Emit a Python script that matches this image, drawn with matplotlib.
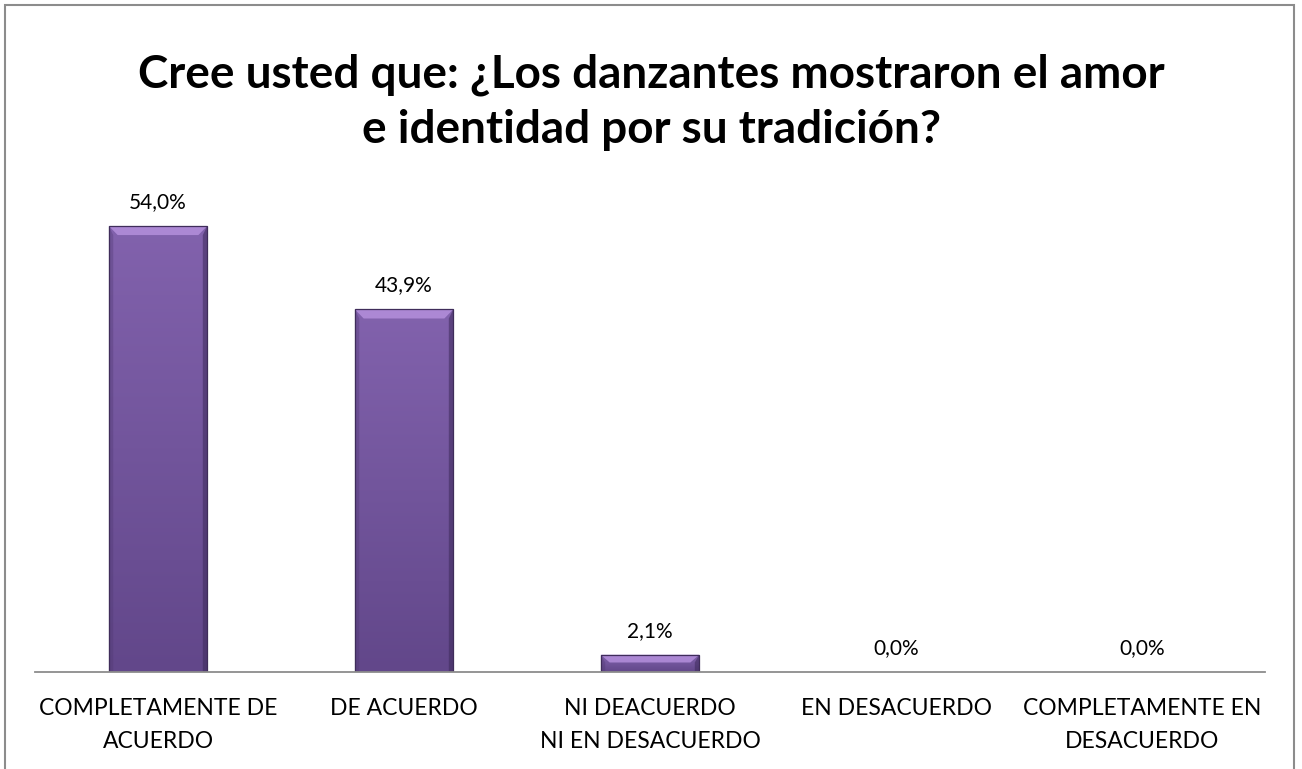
import matplotlib
matplotlib.use("Agg")
import matplotlib.pyplot as plt
from matplotlib.patches import Rectangle, Polygon
import numpy as np

# survey answers and their shares (percent)
categories = ["COMPLETAMENTE DE\nACUERDO", "DE ACUERDO", "NI DEACUERDO\nNI EN DESACUERDO",
              "EN DESACUERDO", "COMPLETAMENTE EN\nDESACUERDO"]
values = [54.0, 43.9, 2.1, 0.0, 0.0]
value_labels = ["54,0%", "43,9%", "2,1%", "0,0%", "0,0%"]
title = "Cree usted que: ¿Los danzantes mostraron el amor\ne identidad por su tradición?"

plt.rcParams['font.family'] = ['Lato', 'DejaVu Sans']

fig = plt.figure(figsize=(13.02, 7.69), dpi=100)
ax = fig.add_axes([0.0269, 0.1261, 0.9447, 0.6445])

x = np.arange(len(values))
bars = ax.bar(x, values, width=0.4, color='#7a5ca3', edgecolor='none', zorder=2)

# vertical gradient clipped to each bar, plus a bevel on top and sides
grad = np.linspace(0, 1, 256).reshape(-1, 1)
cmap = matplotlib.colors.LinearSegmentedColormap.from_list(
    'bev', ['#62478a', '#72559c', '#8262ad'])
bev_x = 0.036   # bevel width in category units (~9 px)
bev_y = 1.1     # bevel height in percent units (~9 px)
for b in bars:
    if b.get_height() <= 0:
        continue
    x0, w, h = b.get_x(), b.get_width(), b.get_height()
    im = ax.imshow(grad, cmap=cmap, origin='lower', aspect='auto',
                   extent=(x0, x0 + w, 0, h), zorder=2.1)
    im.set_clip_path(b)
    by = min(bev_y, h * 0.45)
    # top highlight
    ax.add_patch(Polygon([(x0, h), (x0 + w, h), (x0 + w - bev_x, h - by), (x0 + bev_x, h - by)],
                         closed=True, facecolor='#b48fdc', edgecolor='none', alpha=0.85, zorder=2.2))
    # darker sides
    ax.add_patch(Polygon([(x0, h), (x0 + bev_x * 0.5, h - by), (x0 + bev_x * 0.5, 0), (x0, 0)],
                         closed=True, facecolor='#4e3770', edgecolor='none', alpha=0.35, zorder=2.2))
    ax.add_patch(Polygon([(x0 + w, h), (x0 + w - bev_x * 0.5, h - by), (x0 + w - bev_x * 0.5, 0), (x0 + w, 0)],
                         closed=True, facecolor='#3d2a5a', edgecolor='none', alpha=0.55, zorder=2.2))
    ax.add_patch(Rectangle((x0, 0), w, h, facecolor='none', edgecolor='#3f2d5a',
                           linewidth=0.9, zorder=2.3))

for xi, v, lab in zip(x, values, value_labels):
    ax.annotate(lab, (xi, v), xytext=(0, 14), textcoords='offset pixels',
                ha='center', va='bottom', fontsize=15, color='black')

ax.set_xlim(-0.5, len(values) - 0.5)
ax.set_ylim(0, 60)
ax.set_yticks([])
ax.set_xticks(x)
ax.set_xticklabels(categories, fontsize=16.5, linespacing=1.68)
ax.tick_params(axis='x', length=0, pad=19)
for s in ['top', 'right', 'left']:
    ax.spines[s].set_visible(False)
ax.spines['bottom'].set_color('#8c8c8c')
ax.spines['bottom'].set_linewidth(1.3)
ax.set_facecolor('none')

fig.text(0.5, 0.867, title, ha='center', va='center', fontsize=33,
         fontweight='bold', linespacing=1.37)

# outer chart frame (bottom edge runs off the picture)
fig.patches.append(Rectangle((5 / 1302, -0.05), 1289 / 1302, (769 - 5) / 769 + 0.05,
                             transform=fig.transFigure, facecolor='none',
                             edgecolor='#8c8c8c', linewidth=1.5))

fig.savefig('out.png', dpi=100)
